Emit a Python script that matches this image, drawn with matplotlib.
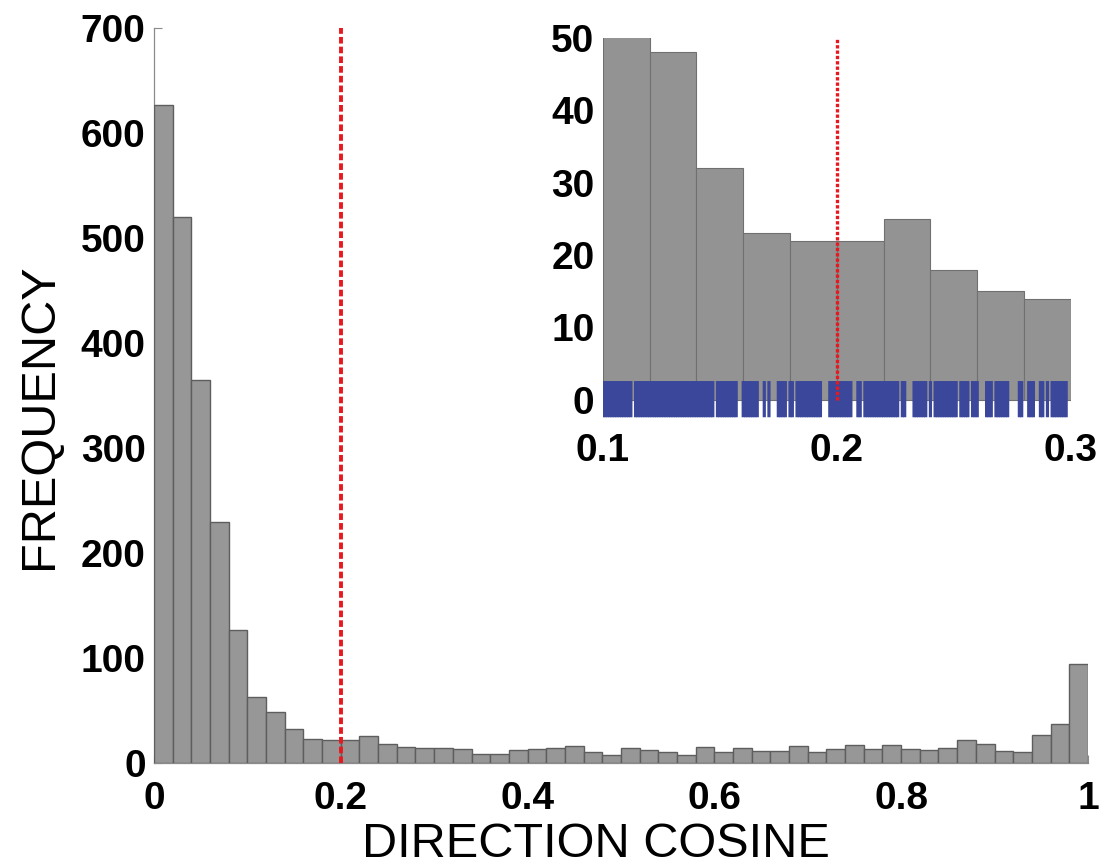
import numpy as np
import matplotlib
matplotlib.use("Agg")
import matplotlib.pyplot as plt

plt.rcParams['font.family'] = ['Liberation Sans', 'DejaVu Sans']

# histogram of direction cosines, 50 bins of width 0.02 on [0, 1]
counts = [627, 520, 365, 229, 126, 63, 48, 32, 23, 22,
          22, 25, 18, 15, 14, 14, 13, 8, 8, 12,
          13, 14, 16, 10, 7, 14, 12, 10, 7, 15,
          10, 14, 11, 11, 16, 10, 13, 17, 13, 17,
          13, 12, 14, 22, 18, 11, 10, 26, 37, 94]
bin_width = 0.02
threshold = 0.2

x_ticks = [0, 0.2, 0.4, 0.6, 0.8, 1]
x_ticklabels = ['0', '0.2', '0.4', '0.6', '0.8', '1']
y_ticks = [0, 100, 200, 300, 400, 500, 600, 700]

# inset: zoom on 0.1 - 0.3 with a rug of the individual samples
inset_range = (0.1, 0.3)
inset_yticks = [0, 10, 20, 30, 40, 50]
inset_xticks = [0.1, 0.2, 0.3]
# sample positions (thousandths)
rug_milli = [100, 101, 102, 103, 104, 105, 106, 107, 108, 109, 110, 111, 112,
             114, 115, 116, 117, 118, 119, 120, 121, 122, 123, 124, 125, 126,
             127, 128, 129, 130, 131, 132, 133, 134, 135, 136, 137, 138, 139,
             140, 141, 142, 143, 144, 145, 146, 147,
             149, 150, 151, 152, 153, 154, 155, 156, 157,
             160, 161, 162, 163, 164, 165, 166,
             169, 171, 175, 176, 177, 178, 180, 181,
             183, 184, 185, 186, 187, 188, 189, 190, 191, 192, 193,
             197, 198, 199, 200, 201, 202, 203, 204, 205, 206,
             209, 210,
             212, 213, 214, 215, 216, 217, 218, 219, 220, 221, 222, 223, 224, 225, 226,
             228, 229,
             233, 234, 235, 236, 237, 238, 240,
             242, 243, 244, 245, 246, 247, 248, 249, 250, 251,
             253, 254, 255, 256, 258, 259, 260,
             264, 265, 266, 268, 269, 270, 271, 272, 273,
             278, 279, 282, 283, 284, 287, 288, 290,
             292, 293, 294, 295, 296, 297, 298]
rug_x = np.array(rug_milli) / 1000.0

bar_color = '#979797'
red = '#e8191e'
rug_color = '#3a479b'

edges = np.arange(len(counts)) * bin_width

fig = plt.figure(figsize=(11, 8.65), dpi=100)

# main histogram
ax = fig.add_axes([0.14, 0.1183, 0.849, 0.849])
ax.bar(edges, counts, width=bin_width, align='edge', color=bar_color,
       edgecolor='#5e5e5e', linewidth=1.0, zorder=2)
ax.vlines(threshold, 0, 700, colors=red, linewidth=2.8,
          linestyles=(0, (1.7, 0.8)), zorder=3)
ax.set_xlim(0, 1)
ax.set_ylim(0, 700)
ax.set_axisbelow(True)
ax.set_xticks(x_ticks)
ax.set_xticklabels(x_ticklabels)
ax.set_yticks(y_ticks)
ax.tick_params(direction='in', length=6, width=0.8, color='#8a8a8a',
               labelsize=28)
ax.tick_params(axis='x', pad=13)
ax.tick_params(axis='y', pad=6)
for lab in ax.get_xticklabels() + ax.get_yticklabels():
    lab.set_fontweight('bold')
for side in ['top', 'right']:
    ax.spines[side].set_visible(False)
for side in ['left', 'bottom']:
    ax.spines[side].set_color('#8a8a8a')
    ax.spines[side].set_linewidth(0.9)
    ax.spines[side].set_zorder(1)

fig.text(52 / 1100, 1 - 416 / 865, 'FREQUENCY', rotation=90,
         rotation_mode='anchor', ha='center', va='baseline', fontsize=35)
fig.text(596 / 1100, 1 - 857 / 865, 'DIRECTION COSINE',
         ha='center', va='baseline', fontsize=35)

# inset
ax2 = fig.add_axes([0.548, 0.5168, 0.4255, 0.4393])
lo = int(round(inset_range[0] / bin_width))
hi = int(round(inset_range[1] / bin_width))
ax2.bar(edges[lo:hi], counts[lo:hi], width=bin_width, align='edge',
        color='#939393', edgecolor='#707070', linewidth=0.8, zorder=1)
rug = ax2.vlines(rug_x, -2.4, 2.6, colors=rug_color, linewidth=2.3, zorder=2)
rug.set_snap(False)
ax2.vlines(threshold, 0, 50, colors=red, linewidth=2.4,
           linestyles=(0, (1.0, 0.6)), zorder=3)
ax2.set_xlim(*inset_range)
ax2.set_ylim(-2.5, 50)
ax2.set_xticks(inset_xticks)
ax2.set_xticklabels(['0.1', '0.2', '0.3'])
ax2.set_yticks(inset_yticks)
ax2.tick_params(length=0, labelsize=28)
ax2.tick_params(axis='x', pad=11)
ax2.tick_params(axis='y', pad=6)
for lab in ax2.get_xticklabels() + ax2.get_yticklabels():
    lab.set_fontweight('bold')
for side in ax2.spines:
    ax2.spines[side].set_visible(False)
ax2.patch.set_alpha(0)

fig.savefig('out.png', dpi=100)
